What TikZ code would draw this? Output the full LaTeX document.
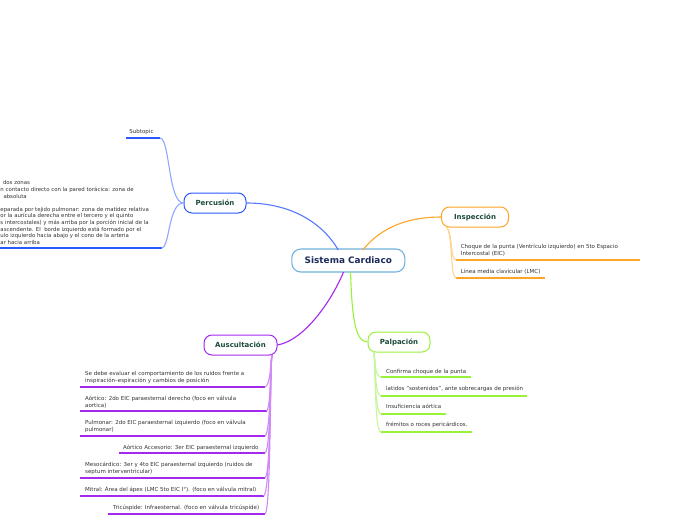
\documentclass[tikz,border=0pt]{standalone}
\usepackage{fontspec}
\setmainfont{DejaVu Sans}
\definecolor{cblue}{HTML}{2A58FF}
\definecolor{cbluel}{HTML}{8EA8FF}
\definecolor{corange}{HTML}{FFA424}
\definecolor{corangel}{HTML}{FFD48C}
\definecolor{cgreen}{HTML}{98F23A}
\definecolor{cgreenl}{HTML}{C6F69A}
\definecolor{cpurple}{HTML}{A428EE}
\definecolor{cpurplel}{HTML}{CF8AF5}
\definecolor{ctext}{HTML}{333333}
\definecolor{clabel}{HTML}{1B4A3C}
\definecolor{cnavy}{HTML}{1C2B5A}
\definecolor{ccentral}{HTML}{6FB2DC}
\begin{document}
\begin{tikzpicture}[x=1pt,y=-1pt,
  central/.style={draw=ccentral, line width=1.1pt, rounded corners=9pt, fill=white, minimum width=113pt, minimum height=23pt, inner sep=0pt, font=\fontsize{8.9}{10}\selectfont\bfseries, text=cnavy},
  topic/.style={line width=1pt, rounded corners=8pt, fill=white, minimum height=20pt, inner sep=0pt, font=\fontsize{7}{8}\selectfont\bfseries, text=clabel},
  sub/.style={anchor=north west, inner sep=0pt, align=left, text=ctext, font=\fontsize{5.5}{7}\selectfont},
  main/.style={line width=1.1pt},
  branch/.style={line width=1.1pt},
  uline/.style={line width=2pt}
]
\path[use as bounding box, fill=white] (0,0) rectangle (696,520);

% main nodes
\node[central] (c) at (348.3,260.5) {Sistema Cardiaco};
\node[topic, draw=cblue, minimum width=62pt] (perc) at (215,203) {Percusión};
\node[topic, draw=corange, minimum width=67pt] (insp) at (475,217) {Inspección};
\node[topic, draw=cgreen, minimum width=62pt] (palp) at (399,342) {Palpación};
\node[topic, draw=cpurple, minimum width=73pt] (ausc) at (240.5,345) {Auscultación};

% main connectors
\coordinate (cP) at (338.3,250);
\coordinate (cI) at (362.7,250);
\coordinate (cG) at (350.5,272);
\coordinate (cA) at (343.5,272);
\draw[main, cblue!80!white] (perc.east) .. controls (290,203) and (322,222) .. (cP);
\draw[main, corange] (cI) .. controls (382,226) and (410,217) .. (insp.west);
\draw[main, cgreen] (cG) .. controls (352,312) and (354,342) .. (palp.west);
\draw[main, cpurple] (cA) .. controls (332,300) and (305,340) .. (ausc.east);

% ---- Percusión subtopics
\node[font=\fontsize{5.5}{7}\selectfont, text=ctext, inner sep=0pt] (st) at (141.5,131.7) {Subtopic};
\coordinate (su1) at (126,138);
\coordinate (su2) at (160,138);
\draw[uline, cblue] (su1) -- (su2);
\node[sub, font=\fontsize{5.4}{6.6}\selectfont] (pt) at (0.3,179.8) {\rule{0pt}{4.8pt}\hspace{2.5pt}dos zonas\\
n contacto directo con la pared torácica: zona de\\
\hspace{3pt}absoluta\\[6.6pt]
eparada por tejido pulmonar: zona de matidez relativa\\
or la aurícula derecha entre el tercero y el quinto\\
s intercostales) y más arriba por la porción inicial de la\\
ascendente. El\ \ borde izquierdo está formado por el\\
ulo izquierdo hacia abajo y el cono de la arteria\\
ar hacia arriba};
\coordinate (pu1) at (0,248);
\coordinate (pu2) at (161.5,248);
\draw[uline, cblue] (pu1) -- (pu2);
\draw[branch, cbluel] (perc.west) .. controls (168,203) and (170,138) .. (su2);
\draw[branch, cbluel] (perc.west) .. controls (168,203) and (170,248) .. (pu2);

% ---- Inspección subtopics
\coordinate (iS) at (446.7,227);
\node[sub] (i1) at (460.7,243.3) {\rule{0pt}{4.8pt}Choque de la punta (Ventrículo izquierdo) en 5to Espacio\\Intercostal (EIC)};
\coordinate (i1a) at (456,260); \coordinate (i1b) at (640,260);
\node[sub] (i2) at (460.7,268.3) {\rule{0pt}{4.8pt}Línea media clavicular (LMC)};
\coordinate (i2a) at (456,278); \coordinate (i2b) at (545,278);
\draw[uline, corange] (i1a) -- (i1b);
\draw[uline, corange] (i2a) -- (i2b);
\draw[branch, corangel] (iS) .. controls (453,236) and (450,259) .. (i1a);
\draw[branch, corangel] (iS) .. controls (453,236) and (450,277) .. (i2a);

% ---- Palpación subtopics
\coordinate (gS) at (373.5,351.5);
\node[sub] (g1) at (386,368.3) {\rule{0pt}{4.8pt}Confirma choque de la punta};
\coordinate (g1a) at (381,377); \coordinate (g1b) at (471,377);
\node[sub] (g2) at (386,385.9) {\rule{0pt}{4.8pt}latidos "sostenidos", ante sobrecargas de presión};
\coordinate (g2a) at (381,396); \coordinate (g2b) at (527,396);
\node[sub] (g3) at (386,403.9) {\rule{0pt}{4.8pt}Insuficiencia aórtica};
\coordinate (g3a) at (381,414); \coordinate (g3b) at (446,414);
\node[sub] (g4) at (386,421.9) {\rule{0pt}{4.8pt}frémitos o roces pericárdicos.};
\coordinate (g4a) at (381,432); \coordinate (g4b) at (472,432);
\draw[uline, cgreen] (g1a) -- (g1b);
\draw[uline, cgreen] (g2a) -- (g2b);
\draw[uline, cgreen] (g3a) -- (g3b);
\draw[uline, cgreen] (g4a) -- (g4b);
\draw[branch, cgreenl] (gS) .. controls (376,360) and (374,376) .. (g1a);
\draw[branch, cgreenl] (gS) .. controls (376,360) and (374,395) .. (g2a);
\draw[branch, cgreenl] (gS) .. controls (376,360) and (374,413) .. (g3a);
\draw[branch, cgreenl] (gS) .. controls (376,360) and (374,431) .. (g4a);

% ---- Auscultación subtopics
\coordinate (aS) at (272,355);
\node[sub] (a1) at (85,370.6) {\rule{0pt}{4.8pt}Se debe evaluar el comportamiento de los ruidos frente a\\inspiración–espiración y cambios de posición};
\coordinate (a1a) at (80,387); \coordinate (a1b) at (265,387);
\node[sub] (a2) at (85,395.6) {\rule{0pt}{4.8pt}Aórtico: 2do EIC paraesternal derecho (foco en válvula\\aortica)};
\coordinate (a2a) at (80,411); \coordinate (a2b) at (266.5,411);
\node[sub] (a3) at (85,419.3) {\rule{0pt}{4.8pt}Pulmonar: 2do EIC paraesternal izquierdo (foco en válvula\\pulmonar)};
\coordinate (a3a) at (80,436); \coordinate (a3b) at (265,436);
\node[sub] (a4) at (123,444.9) {\rule{0pt}{4.8pt}Aórtico Accesorio: 3er EIC paraesternal izquierdo};
\coordinate (a4a) at (119,453); \coordinate (a4b) at (265,453);
\node[sub] (a5) at (85,461.6) {\rule{0pt}{4.8pt}Mesocárdico: 3er y 4to EIC paraesternal izquierdo (ruidos de\\septum interventricular)};
\coordinate (a5a) at (80,478); \coordinate (a5b) at (265,478);
\node[sub] (a6) at (85,486.6) {\rule{0pt}{4.8pt}Mitral: Área del ápex (LMC 5to EIC I°). (foco en válvula mitral)};
\coordinate (a6a) at (80,496); \coordinate (a6b) at (263.5,496);
\node[sub] (a7) at (113,504.9) {\rule{0pt}{4.8pt}Tricúspide: Infraesternal. (foco en válvula tricúspide)};
\coordinate (a7a) at (108,514); \coordinate (a7b) at (265,514);
\draw[uline, cpurple] (a1a) -- (a1b);
\draw[uline, cpurple] (a2a) -- (a2b);
\draw[uline, cpurple] (a3a) -- (a3b);
\draw[uline, cpurple] (a4a) -- (a4b);
\draw[uline, cpurple] (a5a) -- (a5b);
\draw[uline, cpurple] (a6a) -- (a6b);
\draw[uline, cpurple] (a7a) -- (a7b);
\draw[branch, cpurplel] (aS) .. controls (270,364) and (271,384) .. (a1b);
\draw[branch, cpurplel] (aS) .. controls (270,364) and (271,408) .. (a2b);
\draw[branch, cpurplel] (aS) .. controls (270,364) and (271,432) .. (a3b);
\draw[branch, cpurplel] (aS) .. controls (270,364) and (271,450) .. (a4b);
\draw[branch, cpurplel] (aS) .. controls (270,364) and (271,475) .. (a5b);
\draw[branch, cpurplel] (aS) .. controls (270,364) and (271,493) .. (a6b);
\draw[branch, cpurplel] (aS) .. controls (270,364) and (271,511) .. (a7b);
\end{tikzpicture}
\end{document}
